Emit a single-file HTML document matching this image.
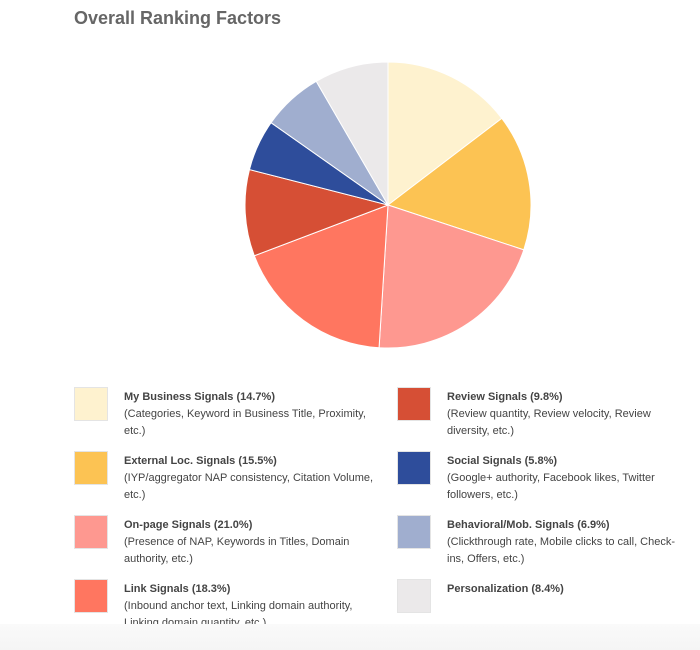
<!DOCTYPE html>
<html><head><meta charset="utf-8"><style>
body{margin:0;width:700px;height:650px;background:#fff;font-family:"Liberation Sans",Arial,sans-serif;position:relative;overflow:hidden}
#title{position:absolute;left:74px;top:8px;font-size:18px;font-weight:bold;color:#666}
.item{position:absolute;width:270px}
.sw{position:absolute;left:0;top:0;width:32px;height:32px;border:1px solid #e4e4e4}
.tx{position:absolute;left:50px;top:2px;width:260px;font-size:11px;line-height:17px;color:#444}
.tx b{color:#444}
#fade{position:absolute;left:0;top:624px;width:700px;height:26px;background:linear-gradient(#fafafa,#f5f5f5)}
</style></head><body>
<div id="title">Overall Ranking Factors</div>
<svg id="pie" width="700" height="370" style="position:absolute;left:0;top:0"></svg>
<div id="legend"></div>
<div id="fade"></div>
<script>
const categories=["My Business Signals","External Loc. Signals","On-page Signals","Link Signals","Review Signals","Social Signals","Behavioral/Mob. Signals","Personalization"];
const values=[14.7,15.5,21.0,18.3,9.8,5.8,6.9,8.4];
const descriptions=["(Categories, Keyword in Business Title, Proximity, etc.)","(IYP/aggregator NAP consistency, Citation Volume, etc.)","(Presence of NAP, Keywords in Titles, Domain authority, etc.)","(Inbound anchor text, Linking domain authority, Linking domain quantity, etc.)","(Review quantity, Review velocity, Review diversity, etc.)","(Google+ authority, Facebook likes, Twitter followers, etc.)","(Clickthrough rate, Mobile clicks to call, Check-ins, Offers, etc.)",""];
const colors=["#fef2cf","#fcc353","#fe9890","#ff7660","#d64f35","#2e4d9b","#a0aecf","#ebe9ea"];
const svg=document.getElementById('pie');
const NS="http://www.w3.org/2000/svg";
const cx=388,cy=205,r=143;
const total=values.reduce((a,b)=>a+b,0);
let a0=0;
values.forEach((v,i)=>{
  const a1=a0+v/total*2*Math.PI;
  const x0=cx+r*Math.sin(a0),y0=cy-r*Math.cos(a0),x1=cx+r*Math.sin(a1),y1=cy-r*Math.cos(a1);
  const p=document.createElementNS(NS,'path');
  p.setAttribute('d',`M${cx},${cy}L${x0},${y0}A${r},${r} 0 ${a1-a0>Math.PI?1:0} 1 ${x1},${y1}Z`);
  p.setAttribute('fill',colors[i]);p.setAttribute('stroke','#fff');p.setAttribute('stroke-width','1');
  
  
  svg.appendChild(p);
  a0=a1;
});
const lg=document.getElementById('legend');
categories.forEach((c,i)=>{
  const col=i<4?0:1,row=i%4;
  const d=document.createElement('div');d.className='item';
  d.style.left=(col?397:74)+'px';d.style.top=(387+row*64)+'px';
  
  
  const s=document.createElement('div');s.className='sw';s.style.background=colors[i];
  
  
  const t=document.createElement('div');t.className='tx';
  
  
  t.innerHTML='<b>'+c+' ('+values[i].toFixed(1)+'%)</b>'+(descriptions[i]?'<br>'+descriptions[i]:'');
  if(col)t.style.width='245px';
  d.appendChild(s);d.appendChild(t);lg.appendChild(d);
});
</script>
</body></html>
